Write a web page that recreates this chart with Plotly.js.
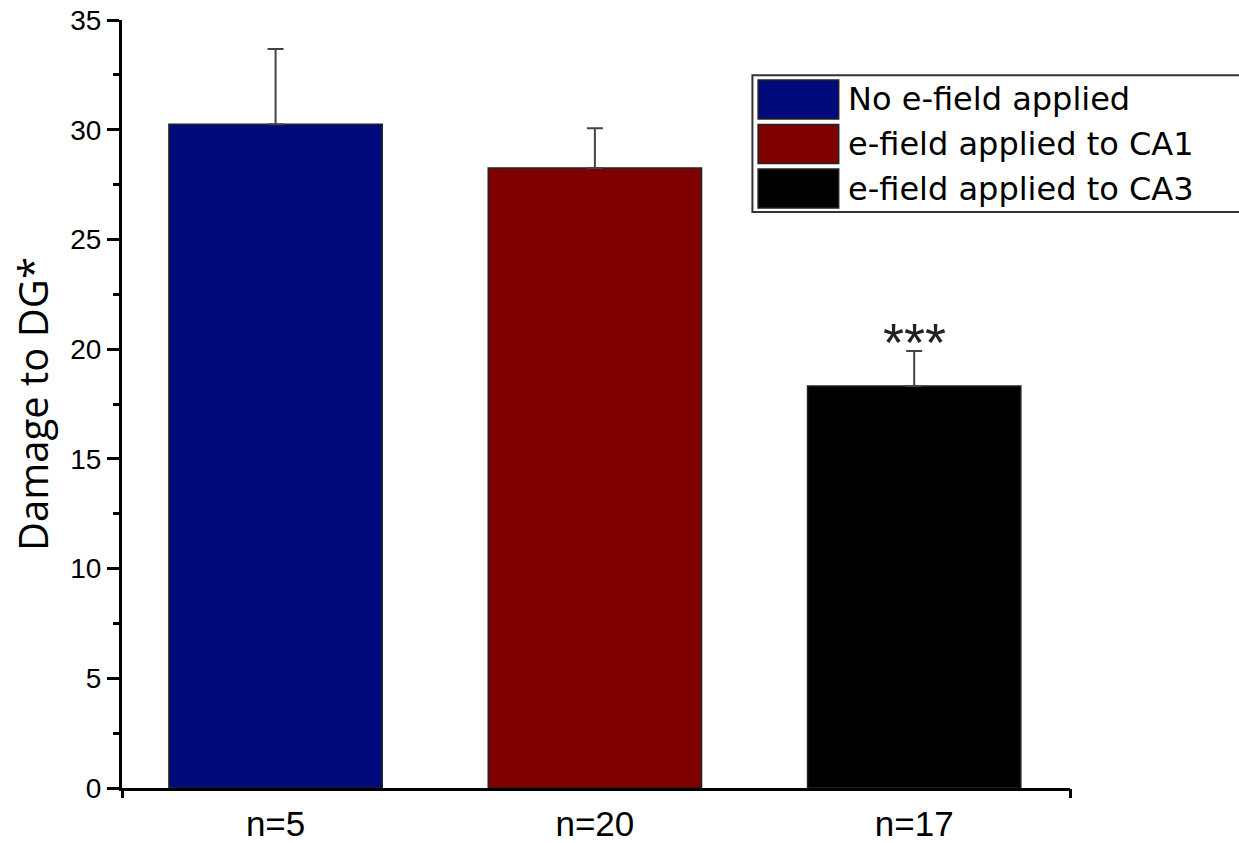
<!DOCTYPE html>
<html>
<head>
<meta charset="utf-8">
<script src="https://cdn.plot.ly/plotly-3.0.1.min.js"></script>
<style>html,body{margin:0;padding:0;background:#fff}#chart{width:1239px;height:843px}</style>
</head>
<body>
<div id="chart"></div>
<script>
// ---- data ----
const groupLabels = ["n=5", "n=20", "n=17"];
const seriesNames = ["No e-field applied", "e-field applied to CA1", "e-field applied to CA3"];
const damageValues = [30.25, 28.25, 18.32];
const damageErrors = [3.43, 1.82, 1.6];
const significance = ["", "", "***"];
const barColors = ["#000a7a", "#800000", "#000000"];

const positions = groupLabels.map((_, i) => i);
const xRange = [-0.481, 2.488];

const traces = seriesNames.map((name, i) => ({
  type: "bar",
  name: name,
  x: [positions[i]],
  y: [damageValues[i]],
  width: 0.668,
  marker: { color: barColors[i], line: { color: "#222", width: 1.5 } },
  error_y: { type: "data", symmetric: false, array: [damageErrors[i]], arrayminus: [0],
             color: "#444", thickness: 2, width: 8 },
  showlegend: false,
  xaxis: "x", yaxis: "y"
}));
// helper trace for end ticks on the x axis
traces.push({ type: "scatter", x: xRange, y: [0, 0], xaxis: "x2", yaxis: "y",
  mode: "none", showlegend: false, hoverinfo: "skip" });

const annotations = [];
significance.forEach((s, i) => {
  if (s) annotations.push({ x: positions[i], y: damageValues[i] + damageErrors[i], xref: "x", yref: "y",
    text: s, showarrow: false, yanchor: "middle", yshift: 9,
    font: { family: "Liberation Sans, Arial", size: 54, color: "#222" } });
});

// manual legend with large swatches
const shapes = [{ type: "rect", xref: "paper", yref: "paper", x0: 0.665, x1: 1.18, y0: 0.75, y1: 0.928,
  line: { color: "#333", width: 2 }, fillcolor: "#fff" }];
seriesNames.forEach((name, i) => {
  const yc = 0.8965 - i * 0.058;
  shapes.push({ type: "rect", xref: "paper", yref: "paper", x0: 0.671, x1: 0.756,
    y0: yc - 0.0254, y1: yc + 0.0254, fillcolor: barColors[i], line: { color: "#222", width: 1.5 } });
  annotations.push({ xref: "paper", yref: "paper", x: 0.764, y: yc, xanchor: "left", yanchor: "middle",
    text: name, showarrow: false, font: { family: "DejaVu Sans", size: 32, color: "#000" } });
});

const layout = {
  width: 1239, height: 843,
  margin: { l: 122, r: 169, t: 20, b: 55 },
  paper_bgcolor: "#fff", plot_bgcolor: "#fff",
  showlegend: false,
  xaxis: { range: xRange, tickvals: positions, ticktext: groupLabels, ticks: "",
    showline: true, linecolor: "#000", linewidth: 3, showgrid: false, zeroline: false,
    ticklabelstandoff: 3,
    tickfont: { family: "Liberation Sans, Arial", size: 35, color: "#000" } },
  xaxis2: { overlaying: "x", range: xRange, tickvals: xRange, ticks: "outside", ticklen: 9, tickwidth: 3,
    tickcolor: "#000", showticklabels: false, showgrid: false, zeroline: false, showline: false, side: "bottom" },
  yaxis: { range: [0, 35], tickvals: [0, 5, 10, 15, 20, 25, 30, 35], ticks: "outside", ticklen: 12, tickwidth: 3,
    tickcolor: "#000", showline: true, linecolor: "#000", linewidth: 3, showgrid: false, zeroline: false,
    minor: { dtick: 2.5, ticks: "outside", ticklen: 6, tickwidth: 3, tickcolor: "#000", showgrid: false },
    tickfont: { family: "Liberation Sans, Arial", size: 28, color: "#000" },
    title: { text: "Damage to DG*", standoff: 10, font: { family: "Open Sans", size: 40, color: "#000" } } },
  shapes: shapes,
  annotations: annotations
};

Plotly.newPlot("chart", traces, layout, { displayModeBar: false, staticPlot: true });
</script>
</body>
</html>
